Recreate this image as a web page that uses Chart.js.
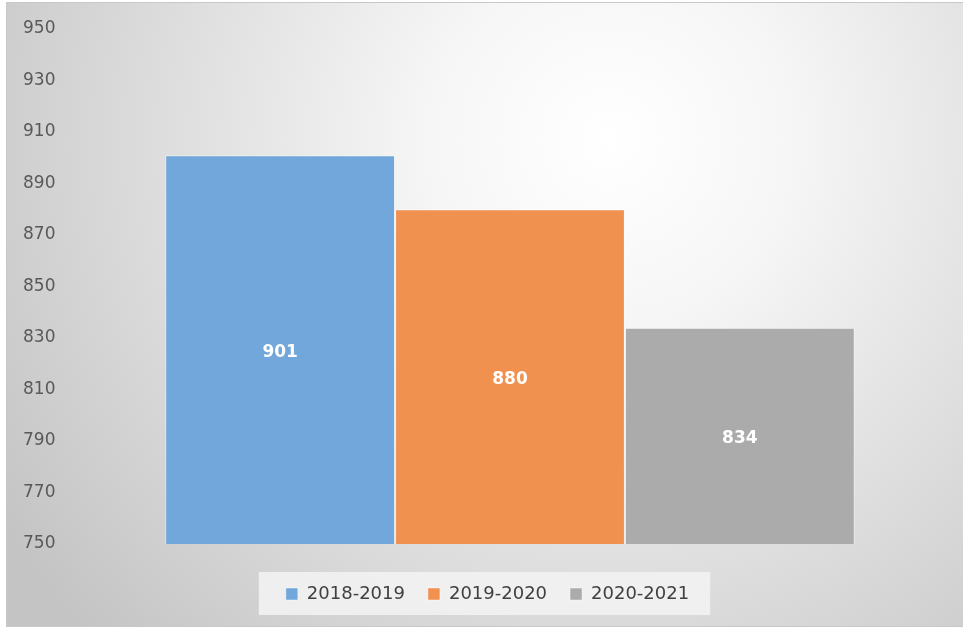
<!DOCTYPE html>
<html>
<head>
<meta charset="utf-8">
<script src="https://cdn.jsdelivr.net/npm/chart.js@4"></script>
<style>
  html, body { margin: 0; padding: 0; background: #fff; }
  #wrap { width: 963px; height: 629px; position: relative; }
</style>
</head>
<body>
<div id="wrap"><canvas id="chart"></canvas></div>
<script>
  // values
  var seasons = ['2018-2019', '2019-2020', '2020-2021'];
  var totals = [901, 880, 834];
  var barColors = ['#71a7da', '#f09150', '#ababab'];
  var yMin = 750, yMax = 950, yStep = 20;

  // gradient backdrop + frame + legend box
  var backdrop = {
    id: 'backdrop',
    beforeDraw: function(chart) {
      var ctx = chart.ctx;
      ctx.save();
      var g = ctx.createRadialGradient(610, 140, 0, 610, 140, 720);
      g.addColorStop(0, '#ffffff');
      g.addColorStop(0.25, '#f6f6f6');
      g.addColorStop(1, '#c4c4c4');
      ctx.fillStyle = g;
      ctx.fillRect(6, 2, 957, 625);
      ctx.strokeStyle = '#c8c8c8';
      ctx.lineWidth = 1;
      ctx.strokeRect(6.5, 2.5, 957, 624);

      var boxes = chart.legend.legendHitBoxes;
      if (boxes && boxes.length) {
        var l = Infinity, r = -Infinity, t = Infinity, b = -Infinity;
        boxes.forEach(function(h) {
          l = Math.min(l, h.left); r = Math.max(r, h.left + h.width);
          t = Math.min(t, h.top); b = Math.max(b, h.top + h.height);
        });
        ctx.fillStyle = 'rgba(242,242,242,0.9)';
        ctx.fillRect(l - 27, t - 13, r - l + 48, b - t + 25);
      }
      ctx.restore();
    }
  };

  // value labels in the middle of each bar
  var barLabels = {
    id: 'barLabels',
    afterDraw: function(chart) {
      var ctx = chart.ctx;
      ctx.save();
      ctx.fillStyle = '#ffffff';
      ctx.font = 'bold 17px DejaVu Sans, sans-serif';
      ctx.textAlign = 'center';
      ctx.textBaseline = 'middle';
      var ys = chart.scales.y;
      chart.data.datasets.forEach(function(ds, i) {
        var el = chart.getDatasetMeta(i).data[0];
        var top = ys.getPixelForValue(ds.data[0]);
        var bottom = ys.getPixelForValue(yMin);
        ctx.fillText(String(ds.data[0]), el.x, (top + bottom) / 2 + 3);
      });
      ctx.restore();
    }
  };

  var datasets = seasons.map(function(s, i) {
    return {
      label: s,
      data: [totals[i]],
      backgroundColor: barColors[i],
      borderColor: 'rgba(255,255,255,0.45)',
      borderWidth: 1,
      barPercentage: 1,
      categoryPercentage: 0.78
    };
  });

  new Chart(document.getElementById('chart'), {
    type: 'bar',
    data: { labels: [''], datasets: datasets },
    plugins: [backdrop, barLabels],
    options: {
      responsive: true,
      maintainAspectRatio: false,
      animation: false,
      layout: { padding: { left: 23, right: 11, top: 29, bottom: 16 } },
      scales: {
        x: {
          border: { display: false },
          grid: { display: false },
          ticks: { display: false },
          afterFit: function(scale) { scale.height = 18; }
        },
        y: {
          min: yMin,
          max: yMax,
          border: { display: false },
          grid: { display: false },
          afterFit: function(scale) { scale.width = 45; },
          ticks: {
            stepSize: yStep,
            crossAlign: 'far',
            color: '#595959',
            font: { family: 'DejaVu Sans', size: 17 },
            padding: 0
          }
        }
      },
      plugins: {
        legend: {
          position: 'bottom',
          labels: {
            boxWidth: 12,
            boxHeight: 12,
            padding: 23,
            color: '#404040',
            font: { family: 'DejaVu Sans', size: 18 }
          }
        },
        tooltip: { enabled: false }
      }
    }
  });
</script>
</body>
</html>
